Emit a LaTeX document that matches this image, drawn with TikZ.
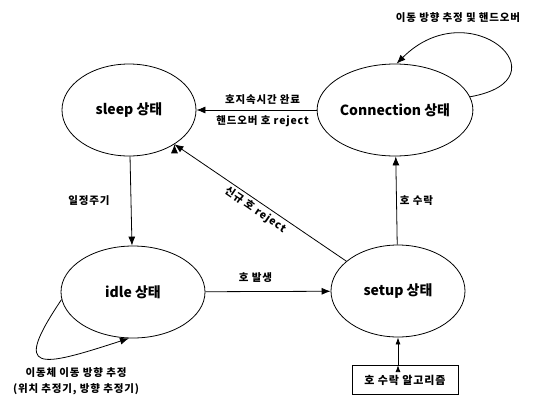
\documentclass[tikz,border=0pt]{standalone}
\usepackage{fontspec}
\setmainfont{Noto Sans CJK KR}
\newfontfamily\labfont{Noto Sans CJK KR}[LetterSpace=8]
\usetikzlibrary{arrows.meta}
\usetikzlibrary{calc}
\usetikzlibrary{positioning}
\usetikzlibrary{shapes.geometric}

\begin{document}
\begin{tikzpicture}[x=1pt,y=1pt,
    stnode/.style={draw,ellipse,line width=0.8pt,minimum width=134pt,minimum height=92pt,inner sep=0pt,font=\fontsize{14}{16}\selectfont\bfseries},
    lab/.style={font=\labfont\fontsize{10.5}{12.5}\selectfont\bfseries,inner sep=1pt},
    trans/.style={draw,line width=0.8pt,->,>={Latex[length=9pt,width=7pt]}}]

  \useasboundingbox (0,0) rectangle (547,-397);

  \node [stnode] (sleep) at (129,-110) {sleep 상태};
  \node [stnode,minimum width=136pt] (Conn) at (395,-110) {Connection 상태};
  \node [stnode,minimum width=144pt] (idle) at (133,-292) {idle 상태};
  \node [stnode] (setup) at (398,-291) {setup 상태};

  \node [draw,rectangle,line width=0.8pt,minimum width=106pt,minimum height=29pt,font=\labfont\fontsize{11}{13}\selectfont\bfseries] (algo) at (405,-380) {호 수락 알고리즘};

  \path [trans]
    (Conn)  edge node [lab,above=4pt,pos=0.45] {호지속시간 완료}
                 node [lab,below=4pt,pos=0.45] {핸드오버 호 reject} (sleep)
    (sleep) edge node [lab,left=20pt] {일정주기} (idle)
    (idle)  edge node [lab,above=8pt,pos=0.4] {호 발생} (setup)
    (setup) edge node [lab,right=2pt] {호 수락} (Conn)
    (sleep.323) edge [<-] node [lab,sloped,below=2pt] {신규 호 reject} (setup.150);

  \path [trans,>={Latex[length=7pt,width=5pt]}]
    (algo.north -| setup) edge (setup.south);

  % self loops
  \path [trans] (Conn.10) .. controls +(10:100pt) and +(45:104pt) .. (Conn.88);
  \path [trans] (idle.186) .. controls +(236:90pt) and +(198:95pt) .. (idle.265);

  \node [lab] (connlooplab) at (458,-18) {이동 방향 추정 및 핸드오버};
  \node [lab,align=center,font=\labfont\fontsize{10.5}{15.5}\selectfont\bfseries] (idlelooplab) at (76,-381)
    {이동체 이동 방향 추정\\(위치 추정기, 방향 추정기)};
\end{tikzpicture}
\end{document}
